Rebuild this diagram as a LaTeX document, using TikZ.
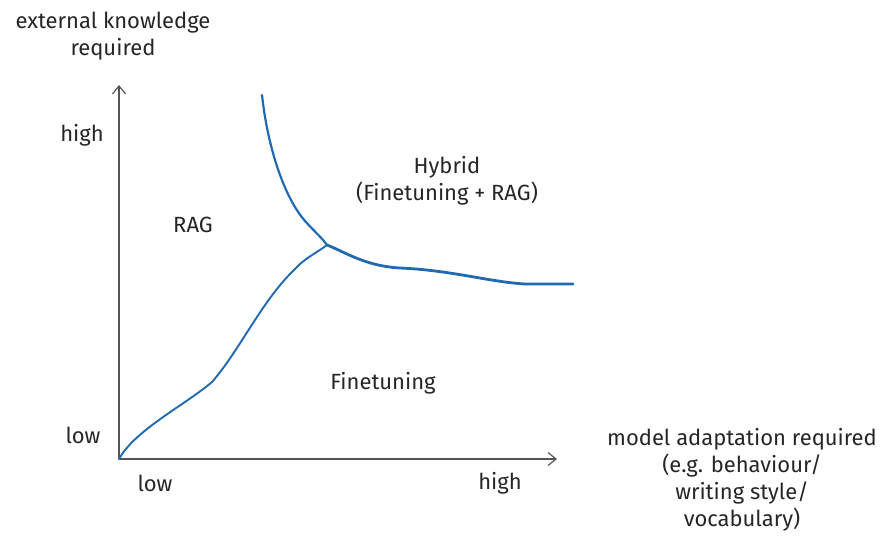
\documentclass[tikz,border=0pt]{standalone}
\usepackage{fontspec}
\setmainfont{Fira Sans}
\usetikzlibrary{arrows.meta}
\definecolor{curveblue}{HTML}{1F6AB0}
\definecolor{axisgrey}{HTML}{555555}

\tikzset{
  lbl/.style={font=\fontsize{22}{27}\selectfont, text=black!85, align=center, inner sep=0pt},
  axis/.style={draw=axisgrey, line width=1.2pt, -{Straight Barb[length=8pt,width=13pt]}},
  region/.style={draw=curveblue, line cap=round, line join=round},
}

\begin{document}
\begin{tikzpicture}[x=1pt, y=-1pt]
\useasboundingbox (0,0) rectangle (890,542);

% axes
\coordinate (o) at (119,459);
\coordinate (ytop) at (119,85);
\coordinate (xend) at (557,459);
\draw[axis] (o) -- (ytop);
\draw[axis] (o) -- (xend);

% axis titles and ticks
\node[lbl] (ytitle) at (113,36) {external knowledge\\required};
\node[lbl] (xtitle) at (742,480) {model adaptation required\\(e.g. behaviour/\\writing style/\\vocabulary)};
\node[lbl] (yhigh) at (82,135) {high};
\node[lbl] (ylow) at (83,435) {low};
\node[lbl] (xlow) at (155,483) {low};
\node[lbl] (xhigh) at (500,483) {high};

% region labels
\node[lbl] (rag) at (193,225) {RAG};
\node[lbl] (hybrid) at (447,181) {Hybrid\\(Finetuning + RAG)};
\node[lbl] (ft) at (383,383) {Finetuning};

% boundaries between the three regions
\coordinate (jn) at (327,245);
\coordinate (top) at (262,95);
\coordinate (right) at (573,284);
\draw[region, line width=2.2pt] (top)
  .. controls (268,150) and (285,198) .. (305,221)
  .. controls (315,232) and (322,238) .. (jn);
\draw[region, line width=1.9pt] (o)
  .. controls (135,430) and (185,405) .. (212,382)
  .. controls (240,350) and (262,300) .. (296,268)
  .. controls (305,258) and (318,252) .. (jn);
\draw[region, line width=2.8pt] (jn)
  .. controls (345,252) and (365,266) .. (400,268)
  .. controls (450,270) and (490,282) .. (525,284)
  -- (right);
\end{tikzpicture}
\end{document}
